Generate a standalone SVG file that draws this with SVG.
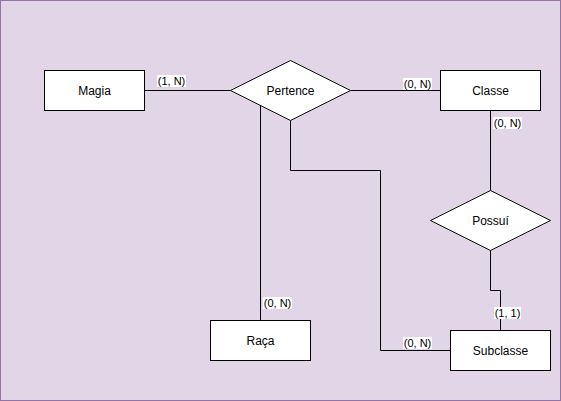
<svg xmlns="http://www.w3.org/2000/svg" width="561" height="401" viewBox="0 0 561 401">
<style>
.ent{fill:#ffffff;stroke:#000000;stroke-width:1}
.t{font-family:"Liberation Sans",Arial,sans-serif;font-size:12px;fill:#000000;text-anchor:middle;dominant-baseline:central}
.lbl{font-family:"Liberation Sans",Arial,sans-serif;font-size:11px;fill:#000000;text-anchor:middle}
.lb{fill:#ffffff}
.c{fill:none;stroke:#000000;stroke-width:1}
</style>
<rect x="0.5" y="0.5" width="560" height="400" fill="#e1d5e7" stroke="#9673a6"/>
<g id="connectors">
<path class="c" d="M144.5 90.5H230.5"/>
<path class="c" d="M350.5 90.5H440.5"/>
<path class="c" d="M490.5 110.5V190.5"/>
<path class="c" d="M490.5 250.5V290.5H500.5V330.5"/>
<path class="c" d="M450.5 350.5H380.5V170.5H290.5V120.5"/>
<path class="c" d="M260.5 320.5V105.5"/>
</g>
<g id="labels">
<rect class="lb" x="157" y="75" width="29" height="12"/>
<text class="lbl" x="171.5" y="85">(1, N)</text>
<rect class="lb" x="403" y="78" width="29" height="12"/>
<text class="lbl" x="417.5" y="88">(0, N)</text>
<rect class="lb" x="493" y="117" width="29" height="12"/>
<text class="lbl" x="507.5" y="127">(0, N)</text>
<rect class="lb" x="263" y="297" width="29" height="12"/>
<text class="lbl" x="277.5" y="307">(0, N)</text>
<rect class="lb" x="494" y="307" width="27" height="12"/>
<text class="lbl" x="507.5" y="317">(1, 1)</text>
<rect class="lb" x="403" y="337" width="29" height="12"/>
<text class="lbl" x="417.5" y="347">(0, N)</text>
</g>
<g id="magia"><rect class="ent" x="44.5" y="70.5" width="100" height="40"/><text class="t" x="94.5" y="90.5">Magia</text></g>
<g id="pertence"><polygon class="ent" points="290.5,60.5 350.5,90.5 290.5,120.5 230.5,90.5"/><text class="t" x="290.5" y="90.5">Pertence</text></g>
<g id="classe"><rect class="ent" x="440.5" y="70.5" width="100" height="40"/><text class="t" x="490.5" y="90.5">Classe</text></g>
<g id="possui"><polygon class="ent" points="490.5,190.5 550.5,220.5 490.5,250.5 430.5,220.5"/><text class="t" x="490.5" y="220.5">Possuí</text></g>
<g id="raca"><rect class="ent" x="210.5" y="320.5" width="100" height="40"/><text class="t" x="260.5" y="340.5">Raça</text></g>
<g id="subclasse"><rect class="ent" x="450.5" y="330.5" width="100" height="40"/><text class="t" x="500.5" y="350.5">Subclasse</text></g>
</svg>
